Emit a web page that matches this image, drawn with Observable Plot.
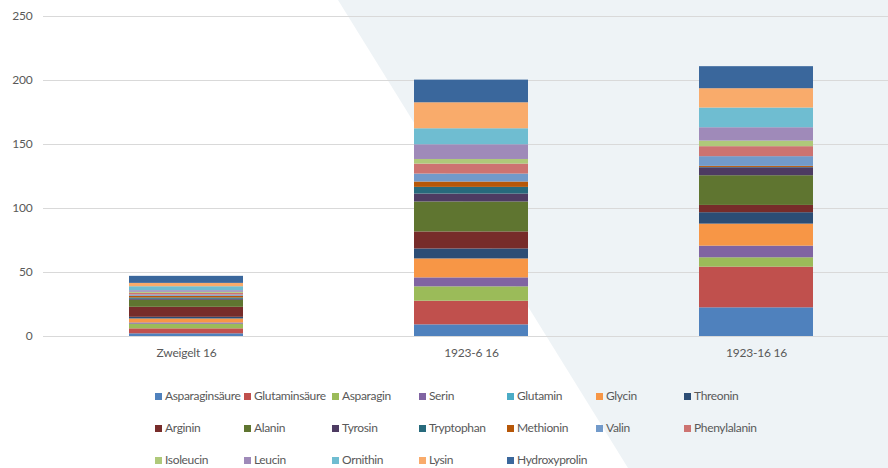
<!DOCTYPE html>
<html>
<head>
<meta charset="utf-8">
<script src="https://cdn.jsdelivr.net/npm/d3@7"></script>
<script src="https://cdn.jsdelivr.net/npm/@observablehq/plot@0.6"></script>
<style>
  html, body { margin: 0; padding: 0; background: #ffffff; overflow: hidden; }
  body { width: 888px; height: 468px; position: relative;
         font-family: Lato, "Open Sans", sans-serif; }
  #bgshape { position: absolute; left: 0; top: 0; width: 888px; height: 468px;
             background: #eef3f6;
             clip-path: polygon(338px 0, 888px 0, 888px 468px, 628px 468px); }
  #chart { position: absolute; left: 0; top: 0; width: 888px; height: 370px; overflow: hidden; }
  #chart svg { background: transparent !important; display: block; max-width: none !important; width: 898px; height: 370px !important; }
  #legend { position: absolute; left: 0; top: 380px; width: 888px; height: 88px; }
  .item { position: absolute; height: 32px; line-height: 32px; font-size: 12px; color: #595959; white-space: nowrap; letter-spacing: -0.35px; }
  .sw { display: inline-block; width: 7px; height: 7px; margin-right: 3px; vertical-align: 0px; }
</style>
</head>
<body>
<div id="bgshape"></div>
<div id="chart"></div>
<div id="legend"></div>
<script>
const categories = ["Zweigelt 16", "1923-6 16", "1923-16 16"];
const series = ["Asparaginsäure", "Glutaminsäure", "Asparagin", "Serin", "Glutamin", "Glycin", "Threonin",
  "Arginin", "Alanin", "Tyrosin", "Tryptophan", "Methionin", "Valin", "Phenylalanin",
  "Isoleucin", "Leucin", "Ornithin", "Lysin", "Hydroxyprolin"];
const colors = ["#4F81BD", "#C0504D", "#9BBB59", "#8064A2", "#4BACC6", "#F79646", "#2C4D75",
  "#772C2A", "#5F7530", "#4D3B62", "#276A7C", "#B65708", "#729ACA", "#CD7371",
  "#AFC97A", "#9F8AB9", "#6FBDD1", "#F9AB6B", "#3A679C"];
// values per series, in category order [Zweigelt 16, 1923-6 16, 1923-16 16]
const Asparaginsaeure = [2.1, 9.1, 22.4];
const Glutaminsaeure  = [3.9, 18.5, 31.8];
const Asparagin       = [3.6, 11.2, 7.3];
const Serin           = [1.0, 7.0, 9.1];
const Glutamin        = [0, 0, 0];
const Glycin          = [3.1, 14.8, 17.2];
const Threonin        = [1.3, 7.8, 8.9];
const Arginin         = [7.8, 13.3, 5.7];
const Alanin          = [5.5, 23.4, 23.2];
const Tyrosin         = [0.8, 6.2, 6.2];
const Tryptophan      = [1.0, 5.2, 0.3];
const Methionin       = [1.3, 4.2, 0.8];
const Valin           = [1.0, 6.2, 7.6];
const Phenylalanin    = [1.3, 7.8, 7.8];
const Isoleucin       = [0.8, 3.6, 4.4];
const Leucin          = [1.3, 11.5, 10.4];
const Ornithin        = [3.1, 12.5, 15.4];
const Lysin           = [2.6, 20.3, 15.1];
const Hydroxyprolin   = [5.5, 17.7, 17.2];
const yTicks = [0, 50, 100, 150, 200, 250];

const valueLists = [Asparaginsaeure, Glutaminsaeure, Asparagin, Serin, Glutamin, Glycin, Threonin,
  Arginin, Alanin, Tyrosin, Tryptophan, Methionin, Valin, Phenylalanin,
  Isoleucin, Leucin, Ornithin, Lysin, Hydroxyprolin];

const data = [];
series.forEach((s, i) => {
  categories.forEach((c, j) => data.push({category: c, series: s, value: valueLists[i][j]}));
});

const chart = Plot.plot({
  width: 898,
  height: 370,
  marginLeft: 43,
  marginRight: 0,
  marginTop: 16,
  marginBottom: 34,
  style: {background: "transparent", fontFamily: "Lato, 'Open Sans', sans-serif", fontSize: "12px", color: "#595959", letterSpacing: "-0.2px", maxWidth: "none"},
  x: {domain: categories, paddingInner: 0.6, paddingOuter: 0.3, label: null},
  y: {domain: [0, 250], label: null},
  color: {domain: series, range: colors},
  marks: [
    Plot.ruleY(yTicks, {stroke: "#d9d9d9", strokeWidth: 1}),
    Plot.barY(data, {x: "category", y: "value", fill: "series", order: null}),
    Plot.axisY(yTicks, {tickSize: 0, tickPadding: 11, label: null, fill: "#595959"}),
    Plot.axisX({tickSize: 0, tickPadding: 12, label: null, fill: "#595959"})
  ]
});
document.getElementById("chart").appendChild(chart);

// legend
const legend = document.getElementById("legend");
const colX = [155, 244, 332, 419, 507, 596, 684];
series.forEach((s, i) => {
  const row = Math.floor(i / 7), col = i % 7;
  const el = document.createElement("div");
  el.className = "item";
  el.style.left = colX[col] + "px";
  el.style.top = (row * 32) + "px";
  const sw = document.createElement("span");
  sw.className = "sw";
  sw.style.background = colors[i];
  el.appendChild(sw);
  el.appendChild(document.createTextNode(s));
  legend.appendChild(el);
});
</script>
</body>
</html>
